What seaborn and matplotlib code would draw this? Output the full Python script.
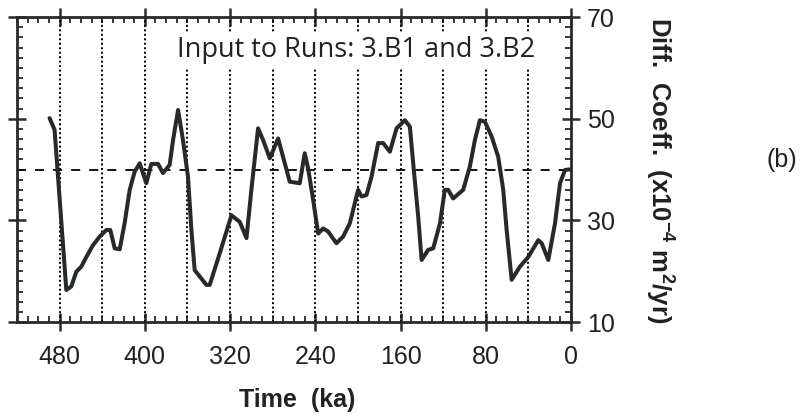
import numpy as np
import pandas as pd
import matplotlib
matplotlib.use("Agg")
import matplotlib.pyplot as plt
from matplotlib.ticker import MultipleLocator
import seaborn as sns

# Data (time in ka, diffusion coefficient in 1e-4 m^2/yr)
time_ka = [489.4, 484.7, 473.7, 469.0, 464.3, 459.6, 454.9, 448.7, 442.4, 436.1,
           432.4, 428.3, 423.6, 419.0, 414.2, 409.5, 404.8, 398.6, 393.9, 387.6,
           383.0, 376.7, 373.5, 368.8, 364.2, 359.5, 356.3, 353.2, 342.2, 339.1,
           329.7, 318.7, 310.9, 304.6, 300.0, 293.7, 289.0, 282.7, 274.9, 268.6,
           264.0, 254.6, 249.9, 246.7, 242.0, 237.3, 232.7, 228.0, 220.2, 213.9,
           207.6, 199.8, 196.6, 191.9, 187.2, 181.0, 176.3, 170.0, 163.7, 155.9,
           151.2, 148.1, 143.4, 140.2, 134.0, 129.3, 123.0, 118.4, 115.3, 110.6,
           101.2, 94.9, 90.2, 85.5, 80.8, 74.5, 68.3, 63.6, 60.4, 55.7,
           47.9, 40.1, 30.7, 27.5, 21.3, 15.0, 10.3, 5.6, 2.5, 0.0]
diff_coeff = [50.1, 47.8, 16.3, 17.0, 19.9, 20.9, 22.8, 25.1, 26.8, 28.1,
              28.1, 24.5, 24.3, 29.4, 36.0, 39.6, 41.2, 37.3, 41.1, 41.1,
              39.3, 40.9, 45.8, 51.7, 45.8, 38.6, 28.1, 20.2, 17.3, 17.3,
              23.5, 31.0, 29.7, 26.5, 36.0, 48.1, 45.8, 42.2, 46.1, 41.2,
              37.6, 37.3, 43.2, 40.2, 34.0, 27.4, 28.4, 27.8, 25.5, 26.8,
              29.4, 36.0, 34.7, 35.0, 38.6, 45.2, 45.2, 43.5, 48.1, 49.7,
              48.4, 41.2, 30.7, 22.2, 24.2, 24.5, 29.4, 36.0, 36.0, 34.3,
              36.0, 40.6, 45.8, 49.7, 49.4, 46.5, 42.5, 36.0, 28.1, 18.3,
              20.9, 22.8, 26.1, 25.5, 22.2, 29.4, 37.3, 39.9, 40.0, 40.0]
x_ticks = [480, 400, 320, 240, 160, 80, 0]
y_ticks = [10, 30, 50, 70]
grid_times = [480, 440, 400, 360, 320, 280, 240, 200, 160, 120, 80, 40]
reference_level = 40
annotation = "Input to Runs: 3.B1 and 3.B2"

df = pd.DataFrame({"time": time_ka, "coeff": diff_coeff})

sns.set_theme(style="white")
plt.rcParams["font.family"] = ["Liberation Sans", "DejaVu Sans"]
plt.rcParams["mathtext.fontset"] = "custom"
plt.rcParams["mathtext.rm"] = "Liberation Sans"
plt.rcParams["mathtext.bf"] = "Liberation Sans:bold"

fig = plt.figure(figsize=(8.05, 4.19), dpi=100)
ax = fig.add_axes([0.0211, 0.2315, 0.6882, 0.7279])

ink = "#262a28"
for t in grid_times:
    ax.axvline(t, color="black", linestyle=(0, (1, 1.3)), linewidth=1.4, zorder=1)
ax.axhline(reference_level, color="black", linestyle=(0, (5, 5)), linewidth=1.3, zorder=1)

sns.lineplot(data=df, x="time", y="coeff", ax=ax, color=ink, linewidth=2.9,
             sort=False, zorder=3)

ax.text(202, 63.5, annotation, ha="center", va="center", fontsize=19.5,
        family=["Open Sans", "DejaVu Sans"], color="#1e2220", zorder=4,
        bbox=dict(facecolor="white", edgecolor="none", pad=3))

ax.set_xlim(520, 0)
ax.set_ylim(10, 70)
ax.set_xticks(x_ticks)
ax.set_yticks(y_ticks)
ax.xaxis.set_minor_locator(MultipleLocator(10))
ax.yaxis.set_minor_locator(MultipleLocator(2))
ax.set_xlabel("")
ax.set_ylabel("")

for s in ax.spines.values():
    s.set_visible(True)
    s.set_color(ink)
    s.set_linewidth(2.0)

ax.tick_params(axis="both", which="major", direction="inout", length=13, width=1.8,
               color=ink, top=True, bottom=True, left=True, right=True,
               labelsize=18, labelcolor="#1e2220")
ax.tick_params(axis="both", which="minor", direction="in", length=4, width=1.3,
               color=ink, top=True, bottom=True, left=True, right=True)
ax.tick_params(axis="x", which="major", pad=10)
ax.tick_params(axis="y", which="major", labelleft=False, labelright=True, pad=5)

fig.text(297 / 805, 1 - 400 / 419, "Time  (ka)", ha="center", va="center",
         fontsize=18, fontweight="bold", color="#1e2220")
fig.text(660 / 805, 1 - 170 / 419,
         r"Diff.  Coeff.  (x10$^{\mathbf{-4}}$ m$^{\mathbf{2}}$/yr)",
         ha="center", va="center", rotation=270, fontsize=18.5, fontweight="bold",
         color="#1e2220")
fig.text(782 / 805, 1 - 160 / 419, "(b)", ha="center", va="center", fontsize=18,
         color="#1e2220")

fig.savefig("out.png", dpi=100)
